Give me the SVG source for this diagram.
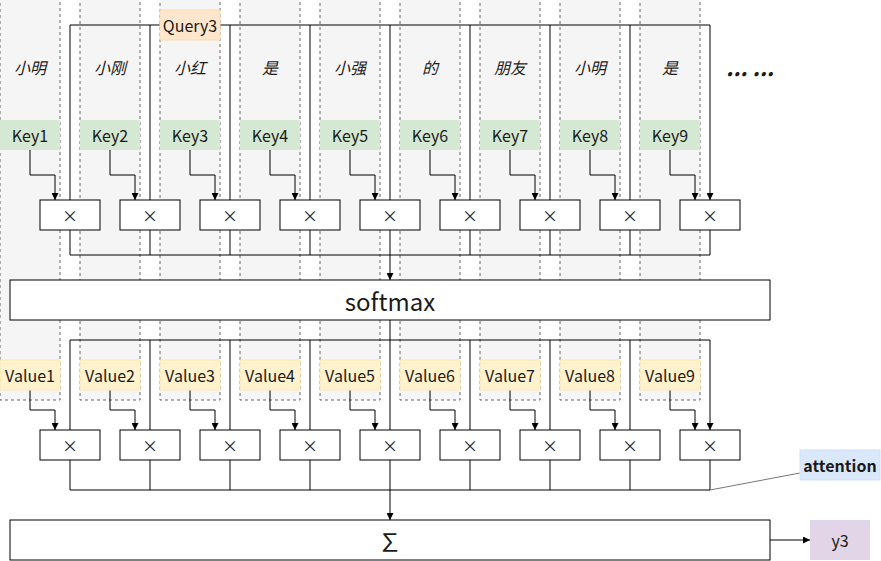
<svg xmlns="http://www.w3.org/2000/svg" width="881" height="561" viewBox="0 0 881 561">
<style>
text{font-family:"Noto Sans CJK SC","Noto Sans",sans-serif;fill:#1a1a1a;text-anchor:middle;dominant-baseline:central}
.col{fill:#f5f5f5;stroke:#666;stroke-dasharray:3 3;stroke-width:1}
.key{fill:#d5e8d4}
.val{fill:#fff2cc;stroke:#fce8b0}
.mul{fill:#fff;stroke:#000;stroke-width:1}
.ln{fill:none;stroke:#000;stroke-width:1}
.t{font-size:16px}
.w{font-size:16px;font-style:italic}
</style>
<defs>
<marker id="ah" viewBox="0 0 10 10" refX="10" refY="5" markerWidth="7" markerHeight="7" orient="auto" markerUnits="userSpaceOnUse">
<path d="M0,0 L10,5 L0,10 z" fill="#000"/>
</marker>
</defs>
<g id="columns">
<rect class="col" x="0" y="-10" width="60" height="410"/>
<rect class="col" x="80" y="-10" width="60" height="410"/>
<rect class="col" x="160" y="-10" width="60" height="410"/>
<rect class="col" x="240" y="-10" width="60" height="410"/>
<rect class="col" x="320" y="-10" width="60" height="410"/>
<rect class="col" x="400" y="-10" width="60" height="410"/>
<rect class="col" x="480" y="-10" width="60" height="410"/>
<rect class="col" x="560" y="-10" width="60" height="410"/>
<rect class="col" x="640" y="-10" width="60" height="410"/>
</g>
<g id="words">
<text class="w" x="30" y="67">小明</text>
<text class="w" x="110" y="67">小刚</text>
<text class="w" x="190" y="67">小红</text>
<text class="w" x="270" y="67">是</text>
<text class="w" x="350" y="67">小强</text>
<text class="w" x="430" y="67">的</text>
<text class="w" x="510" y="67">朋友</text>
<text class="w" x="590" y="67">小明</text>
<text class="w" x="670" y="67">是</text>
<text x="750" y="76" style="font-size:22px;font-weight:bold;font-style:italic;dominant-baseline:alphabetic">... ...</text>
</g>
<g id="connectors">
<path class="ln" d="M70,25 H710"/>
<path class="ln" marker-end="url(#ah)" d="M70,25 V200 M150,25 V200 M230,25 V200 M310,25 V200 M390,25 V200 M470,25 V200 M550,25 V200 M630,25 V200 M710,25 V200"/>
<path class="ln" marker-end="url(#ah)" d="M30,150 V175 H55 V200"/>
<path class="ln" marker-end="url(#ah)" d="M110,150 V175 H135 V200"/>
<path class="ln" marker-end="url(#ah)" d="M190,150 V175 H215 V200"/>
<path class="ln" marker-end="url(#ah)" d="M270,150 V175 H295 V200"/>
<path class="ln" marker-end="url(#ah)" d="M350,150 V175 H375 V200"/>
<path class="ln" marker-end="url(#ah)" d="M430,150 V175 H455 V200"/>
<path class="ln" marker-end="url(#ah)" d="M510,150 V175 H535 V200"/>
<path class="ln" marker-end="url(#ah)" d="M590,150 V175 H615 V200"/>
<path class="ln" marker-end="url(#ah)" d="M670,150 V175 H695 V200"/>
<path class="ln" d="M70,230 V255 M150,230 V255 M230,230 V255 M310,230 V255 M470,230 V255 M550,230 V255 M630,230 V255 M710,230 V255 M70,255 H710"/>
<path class="ln" marker-end="url(#ah)" d="M390,230 V280"/>
<path class="ln" d="M390,320 V340 M70,340 H710"/>
<path class="ln" marker-end="url(#ah)" d="M70,340 V430 M150,340 V430 M230,340 V430 M310,340 V430 M390,340 V430 M470,340 V430 M550,340 V430 M630,340 V430 M710,340 V430"/>
<path class="ln" marker-end="url(#ah)" d="M30,390 V410 H55 V430"/>
<path class="ln" marker-end="url(#ah)" d="M110,390 V410 H135 V430"/>
<path class="ln" marker-end="url(#ah)" d="M190,390 V410 H215 V430"/>
<path class="ln" marker-end="url(#ah)" d="M270,390 V410 H295 V430"/>
<path class="ln" marker-end="url(#ah)" d="M350,390 V410 H375 V430"/>
<path class="ln" marker-end="url(#ah)" d="M430,390 V410 H455 V430"/>
<path class="ln" marker-end="url(#ah)" d="M510,390 V410 H535 V430"/>
<path class="ln" marker-end="url(#ah)" d="M590,390 V410 H615 V430"/>
<path class="ln" marker-end="url(#ah)" d="M670,390 V410 H695 V430"/>
<path class="ln" d="M70,460 V490 M150,460 V490 M230,460 V490 M310,460 V490 M470,460 V490 M550,460 V490 M630,460 V490 M710,460 V490 M70,490 H710"/>
<path class="ln" marker-end="url(#ah)" d="M390,460 V520"/>
<path class="ln" marker-end="url(#ah)" d="M770,540 H810"/>
<path fill="none" stroke="#777" stroke-width="1" d="M710,490 L800,473"/>
</g>
<g id="query3">
<rect x="160" y="10" width="60" height="30" fill="#ffe6cc" stroke="#fdd9b0"/>
<text class="t" x="190" y="25">Query3</text>
</g>
<g id="keys">
<g id="key1"><rect class="key" x="0" y="120" width="60" height="30"/><text class="t" x="30" y="135">Key1</text></g>
<g id="key2"><rect class="key" x="80" y="120" width="60" height="30"/><text class="t" x="110" y="135">Key2</text></g>
<g id="key3"><rect class="key" x="160" y="120" width="60" height="30"/><text class="t" x="190" y="135">Key3</text></g>
<g id="key4"><rect class="key" x="240" y="120" width="60" height="30"/><text class="t" x="270" y="135">Key4</text></g>
<g id="key5"><rect class="key" x="320" y="120" width="60" height="30"/><text class="t" x="350" y="135">Key5</text></g>
<g id="key6"><rect class="key" x="400" y="120" width="60" height="30"/><text class="t" x="430" y="135">Key6</text></g>
<g id="key7"><rect class="key" x="480" y="120" width="60" height="30"/><text class="t" x="510" y="135">Key7</text></g>
<g id="key8"><rect class="key" x="560" y="120" width="60" height="30"/><text class="t" x="590" y="135">Key8</text></g>
<g id="key9"><rect class="key" x="640" y="120" width="60" height="30"/><text class="t" x="670" y="135">Key9</text></g>
</g>
<g id="mulK">
<g id="mk1"><rect class="mul" x="40" y="200" width="60" height="30"/><text class="t" x="70" y="215">×</text></g>
<g id="mk2"><rect class="mul" x="120" y="200" width="60" height="30"/><text class="t" x="150" y="215">×</text></g>
<g id="mk3"><rect class="mul" x="200" y="200" width="60" height="30"/><text class="t" x="230" y="215">×</text></g>
<g id="mk4"><rect class="mul" x="280" y="200" width="60" height="30"/><text class="t" x="310" y="215">×</text></g>
<g id="mk5"><rect class="mul" x="360" y="200" width="60" height="30"/><text class="t" x="390" y="215">×</text></g>
<g id="mk6"><rect class="mul" x="440" y="200" width="60" height="30"/><text class="t" x="470" y="215">×</text></g>
<g id="mk7"><rect class="mul" x="520" y="200" width="60" height="30"/><text class="t" x="550" y="215">×</text></g>
<g id="mk8"><rect class="mul" x="600" y="200" width="60" height="30"/><text class="t" x="630" y="215">×</text></g>
<g id="mk9"><rect class="mul" x="680" y="200" width="60" height="30"/><text class="t" x="710" y="215">×</text></g>
</g>
<g id="softmax">
<rect class="mul" x="10" y="280" width="760" height="40"/>
<text x="390" y="300" style="font-size:24px">softmax</text>
</g>
<g id="values">
<g id="value1"><rect class="val" x="0" y="360" width="60" height="30"/><text class="t" x="30" y="375">Value1</text></g>
<g id="value2"><rect class="val" x="80" y="360" width="60" height="30"/><text class="t" x="110" y="375">Value2</text></g>
<g id="value3"><rect class="val" x="160" y="360" width="60" height="30"/><text class="t" x="190" y="375">Value3</text></g>
<g id="value4"><rect class="val" x="240" y="360" width="60" height="30"/><text class="t" x="270" y="375">Value4</text></g>
<g id="value5"><rect class="val" x="320" y="360" width="60" height="30"/><text class="t" x="350" y="375">Value5</text></g>
<g id="value6"><rect class="val" x="400" y="360" width="60" height="30"/><text class="t" x="430" y="375">Value6</text></g>
<g id="value7"><rect class="val" x="480" y="360" width="60" height="30"/><text class="t" x="510" y="375">Value7</text></g>
<g id="value8"><rect class="val" x="560" y="360" width="60" height="30"/><text class="t" x="590" y="375">Value8</text></g>
<g id="value9"><rect class="val" x="640" y="360" width="60" height="30"/><text class="t" x="670" y="375">Value9</text></g>
</g>
<g id="mulV">
<g id="mv1"><rect class="mul" x="40" y="430" width="60" height="30"/><text class="t" x="70" y="445">×</text></g>
<g id="mv2"><rect class="mul" x="120" y="430" width="60" height="30"/><text class="t" x="150" y="445">×</text></g>
<g id="mv3"><rect class="mul" x="200" y="430" width="60" height="30"/><text class="t" x="230" y="445">×</text></g>
<g id="mv4"><rect class="mul" x="280" y="430" width="60" height="30"/><text class="t" x="310" y="445">×</text></g>
<g id="mv5"><rect class="mul" x="360" y="430" width="60" height="30"/><text class="t" x="390" y="445">×</text></g>
<g id="mv6"><rect class="mul" x="440" y="430" width="60" height="30"/><text class="t" x="470" y="445">×</text></g>
<g id="mv7"><rect class="mul" x="520" y="430" width="60" height="30"/><text class="t" x="550" y="445">×</text></g>
<g id="mv8"><rect class="mul" x="600" y="430" width="60" height="30"/><text class="t" x="630" y="445">×</text></g>
<g id="mv9"><rect class="mul" x="680" y="430" width="60" height="30"/><text class="t" x="710" y="445">×</text></g>
</g>
<g id="sum">
<rect class="mul" x="10" y="520" width="760" height="40"/>
<text x="390" y="540" style="font-size:24px">∑</text>
</g>
<g id="y3">
<rect x="810" y="520" width="60" height="40" fill="#e1d5e7"/>
<text class="t" x="840" y="540">y3</text>
</g>
<g id="attention">
<rect x="800" y="450" width="80" height="30" fill="#dae8fc" stroke="#cfe0f8"/>
<text class="t" x="840" y="465" font-weight="bold">attention</text>
</g>
</svg>
